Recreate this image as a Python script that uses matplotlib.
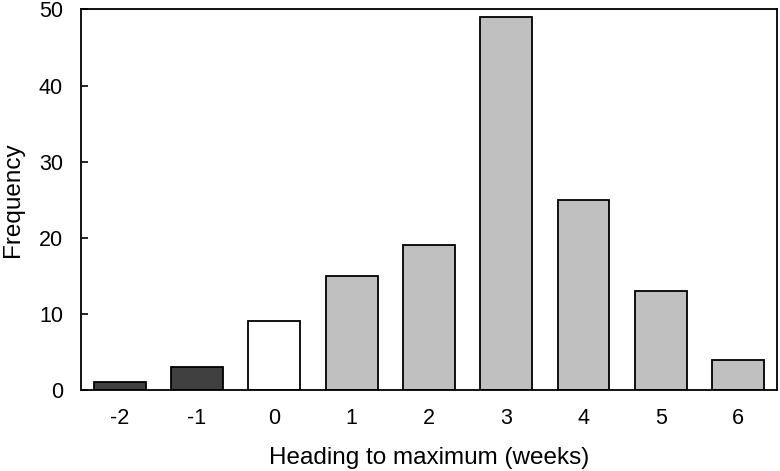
import matplotlib.pyplot as plt

plt.rcParams['font.family'] = ['Liberation Sans', 'DejaVu Sans']

# Data
weeks = [-2, -1, 0, 1, 2, 3, 4, 5, 6]
freq = [1, 3, 9, 15, 19, 49, 25, 13, 4]
colors = ['#404040', '#404040', '#ffffff', '#c0c0c0', '#c0c0c0',
          '#c0c0c0', '#c0c0c0', '#c0c0c0', '#c0c0c0']

fig = plt.figure(figsize=(7.8, 4.71), dpi=100)
ax = fig.add_axes([0.1038, 0.172, 0.8922, 0.808])

ax.bar(weeks, freq, width=0.67, color=colors, edgecolor='black', linewidth=1.3)

ax.set_xlim(-2.5, 6.5)
ax.set_ylim(0, 50)
ax.set_xticks(weeks)
ax.set_xticklabels([str(w) for w in weeks])
ax.set_yticks(range(0, 51, 10))
ax.tick_params(axis='x', length=0, pad=13, labelsize=15.5)
ax.tick_params(axis='y', direction='in', length=5, width=1.2, pad=13, labelsize=15.5)
for s in ax.spines.values():
    s.set_linewidth(1.3)

ax.set_xlabel('Heading to maximum (weeks)', fontsize=17.5, labelpad=13)
ax.set_ylabel('Frequency', fontsize=17.5, labelpad=11)

plt.savefig('out.png')
